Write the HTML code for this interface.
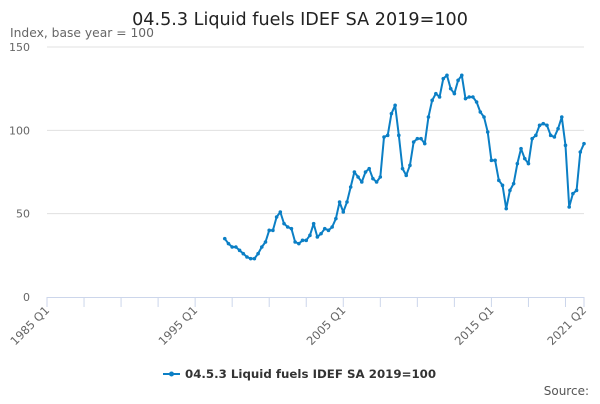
<!DOCTYPE html>
<html><head><meta charset="utf-8"><style>
body{margin:0;background:#fff;font-family:"DejaVu Sans","Liberation Sans",sans-serif}
</style></head><body>
<svg id="c" width="600" height="400" xmlns="http://www.w3.org/2000/svg" font-family="DejaVu Sans, Liberation Sans, sans-serif">
<text x="300" y="25" text-anchor="middle" font-size="17.6" fill="#222">04.5.3 Liquid fuels IDEF SA 2019=100</text>
<text x="10" y="37" font-size="12.3" fill="#666">Index, base year = 100</text>
<g id="grid"></g><g id="xax"></g><g id="series"></g>
<g>
<line x1="163" y1="374" x2="180" y2="374" stroke="#0b7fc5" stroke-width="2"/>
<circle cx="171.5" cy="374" r="2.5" fill="#0b7fc5"/>
<text x="185" y="378" font-size="11.8" font-weight="bold" fill="#333">04.5.3 Liquid fuels IDEF SA 2019=100</text>
</g>
<text x="589" y="395" text-anchor="end" font-size="12" fill="#555">Source:</text>
</svg>
<script>
const yTicks=[0,50,100,150];
const xTickLabels=["1985 Q1","1995 Q1","2005 Q1","2015 Q1","2021 Q2"];
const xTickLabelQuarters=[0,40,80,120,145];
const startQuarter=48; // 1997 Q1 index from 1985 Q1
const values=[35,32,30,30, 28,26,24,23, 23,26,30,33, 40,40,48,51, 44,42,41,33,
32,34,34,37, 44,36,38,41, 40,42,47,57, 51,57,66,75, 72,69,75,77, 71,69,72,96,
97,110,115,97, 77,73,79,93, 95,95,92,108, 118,122,120,131, 133,125,122,130,
133,119,120,120, 117,111,108,99, 82,82,70,67, 53,64,68,80, 89,83,80,95,
97,103,104,103, 97,96,101,108, 91,54,62,64, 87,92];
const NS="http://www.w3.org/2000/svg";
const x0=47,x1=584,nQ=145,y0=297,y1=47,ymax=150;
const X=q=>x0+(x1-x0)*q/nQ, Y=v=>y0-(y0-y1)*v/ymax;
function mk(t,a,p){const e=document.createElementNS(NS,t);for(const k in a)e.setAttribute(k,a[k]);p.appendChild(e);return e;}
const grid=document.getElementById('grid');
yTicks.forEach(v=>{
 if(v>0){const l=mk('line',{x1:x0,x2:x1,y1:Y(v),y2:Y(v),stroke:'#e0e0e0'},grid);
 
 }
 const t=mk('text',{x:x0-17,y:Y(v)+4,'text-anchor':'end','font-size':11,fill:'#666'},grid);
 t.textContent=v;
 
 
});
const xax=document.getElementById('xax');
const al=mk('line',{x1:x0,x2:x1,y1:y0+0.5,y2:y0+0.5,stroke:'#ccd6eb'},xax);


for(let q=0;q<=nQ;q+=10){mk('line',{x1:X(q),x2:X(q),y1:y0,y2:y0+10,stroke:'#ccd6eb'},xax);}
mk('line',{x1:X(nQ),x2:X(nQ),y1:y0,y2:y0+10,stroke:'#ccd6eb'},xax);
xTickLabels.forEach((s,i)=>{
 const x=X(xTickLabelQuarters[i]);
 const t=mk('text',{x:x+3,y:y0+14,'text-anchor':'end','font-size':11.5,fill:'#666',transform:`rotate(-45 ${x+3} ${y0+14})`},xax);
 t.textContent=s;
 
 
});
const ser=document.getElementById('series');
const pts=values.map((v,i)=>[X(startQuarter+i),Y(v)]);
const path=mk('polyline',{points:pts.map(p=>p.join(',')).join(' '),fill:'none',stroke:'#0b7fc5','stroke-width':2,'stroke-linejoin':'round'},ser);


pts.forEach(p=>{const c=mk('circle',{cx:p[0],cy:p[1],r:1.8,fill:'#0b7fc5'},ser);
 
 });
</script>
</body></html>
